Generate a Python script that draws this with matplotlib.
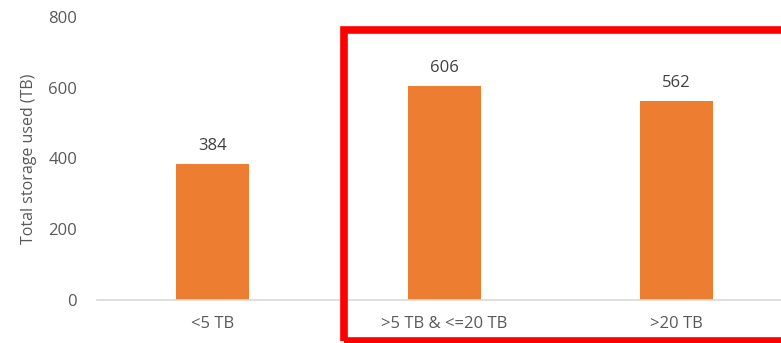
import matplotlib.pyplot as plt
from matplotlib.patches import Rectangle

categories = ['<5 TB', '>5 TB & <=20 TB', '>20 TB']
storage_tb = [384, 606, 562]
y_ticks = [0, 200, 400, 600, 800]

plt.rcParams['font.family'] = ['Open Sans', 'DejaVu Sans']

W, H = 781, 343
fig = plt.figure(figsize=(W / 100, H / 100), dpi=100)
# axes reaches past the right edge, the original picture was cropped there
ax = fig.add_axes([96.5 / W, (H - 300) / H, (792 - 96.5) / W, 283 / H])

x = range(len(categories))
bars = ax.bar(x, storage_tb, width=0.315, color='#ED7D31')
for b, v in zip(bars, storage_tb):
    ax.annotate(str(v), (b.get_x() + b.get_width() / 2, v), xytext=(0, 7),
                textcoords='offset points', ha='center', va='bottom',
                fontsize=12, color='#404040')

ax.set_xlim(-0.5, 2.5)
ax.set_ylim(0, 800)
ax.set_yticks(y_ticks)
ax.set_xticks(list(x))
ax.set_xticklabels(categories)
ax.tick_params(axis='y', length=0, pad=14, labelsize=12, labelcolor='#595959')
ax.tick_params(axis='x', length=0, pad=11.5, labelsize=12, labelcolor='#595959')
ax.set_ylabel('Total storage used (TB)', fontsize=11.5, color='#595959', labelpad=8)

for s in ['top', 'right', 'left']:
    ax.spines[s].set_visible(False)
ax.spines['bottom'].set_color('#d9d9d9')
ax.spines['bottom'].set_linewidth(1.2)

# red highlight box around the two larger groups
fig.patches.append(Rectangle((343.5 / W, (H - 341) / H), 500 / W, 311 / H,
                             transform=fig.transFigure, fill=False,
                             edgecolor='#FF0000', linewidth=5.5, clip_on=False))

fig.savefig('out.png', dpi=100)
